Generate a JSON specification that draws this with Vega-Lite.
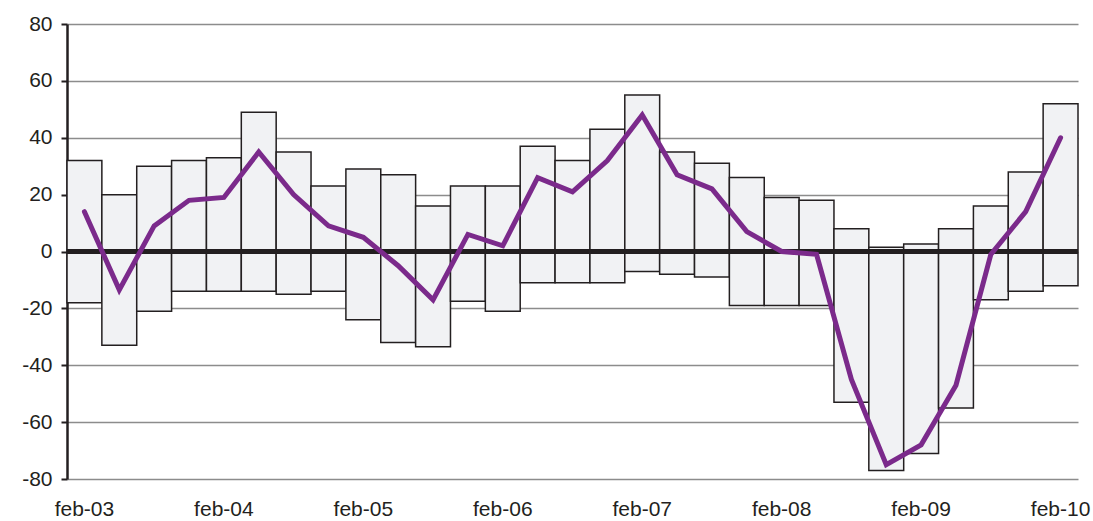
{
  "$schema": "https://vega.github.io/schema/vega-lite/v6.json",
  "width": 1011,
  "height": 455,
  "autosize": {"type": "none"},
  "padding": {"left": 67, "top": 24, "right": 15, "bottom": 42},
  "background": "white",
  "config": {
    "view": {"stroke": null},
    "font": "Liberation Sans",
    "axis": {"labelFont": "Liberation Sans", "labelFontSize": 21, "labelColor": "#231f20"}
  },
  "data": {
    "values": [
      {"period": "feb-03", "low": -18, "high": 32, "value": 14},
      {"period": "may-03", "low": -33, "high": 20, "value": -13.5},
      {"period": "aug-03", "low": -21, "high": 30, "value": 9},
      {"period": "nov-03", "low": -14, "high": 32, "value": 18},
      {"period": "feb-04", "low": -14, "high": 33, "value": 19},
      {"period": "may-04", "low": -14, "high": 49, "value": 35},
      {"period": "aug-04", "low": -15, "high": 35, "value": 20},
      {"period": "nov-04", "low": -14, "high": 23, "value": 9},
      {"period": "feb-05", "low": -24, "high": 29, "value": 5},
      {"period": "may-05", "low": -32, "high": 27, "value": -5},
      {"period": "aug-05", "low": -33.5, "high": 16, "value": -17},
      {"period": "nov-05", "low": -17.5, "high": 23, "value": 6},
      {"period": "feb-06", "low": -21, "high": 23, "value": 2},
      {"period": "may-06", "low": -11, "high": 37, "value": 26},
      {"period": "aug-06", "low": -11, "high": 32, "value": 21},
      {"period": "nov-06", "low": -11, "high": 43, "value": 32},
      {"period": "feb-07", "low": -7, "high": 55, "value": 48},
      {"period": "may-07", "low": -8, "high": 35, "value": 27},
      {"period": "aug-07", "low": -9, "high": 31, "value": 22},
      {"period": "nov-07", "low": -19, "high": 26, "value": 7},
      {"period": "feb-08", "low": -19, "high": 19, "value": 0},
      {"period": "may-08", "low": -19, "high": 18, "value": -1},
      {"period": "aug-08", "low": -53, "high": 8, "value": -45},
      {"period": "nov-08", "low": -77, "high": 1.5, "value": -75},
      {"period": "feb-09", "low": -71, "high": 2.6, "value": -68},
      {"period": "may-09", "low": -55, "high": 8, "value": -47},
      {"period": "aug-09", "low": -17, "high": 16, "value": -1},
      {"period": "nov-09", "low": -14, "high": 28, "value": 14},
      {"period": "feb-10", "low": -12, "high": 52, "value": 40}
    ]
  },
  "encoding": {
    "x": {
      "field": "period",
      "type": "ordinal",
      "sort": null,
      "scale": {"paddingInner": 0, "paddingOuter": 0},
      "axis": {
        "title": null,
        "values": ["feb-03", "feb-04", "feb-05", "feb-06", "feb-07", "feb-08", "feb-09", "feb-10"],
        "labelAngle": 0,
        "domain": false,
        "ticks": false,
        "labelPadding": 19,
        "grid": false
      }
    }
  },
  "layer": [
    {
      "mark": {"type": "bar", "fill": "#f1f2f4", "stroke": "#231f20", "strokeWidth": 1.5},
      "encoding": {
        "y": {
          "field": "low",
          "type": "quantitative",
          "scale": {"domain": [-80, 80], "nice": false},
          "axis": {
            "title": null,
            "values": [-80, -60, -40, -20, 0, 20, 40, 60, 80],
            "labelExpr": "toString(datum.value)",
            "grid": true,
            "gridColor": "#8c8c8c",
            "gridWidth": 1.5,
            "domainColor": "#231f20",
            "domainWidth": 2.5,
            "tickColor": "#231f20",
            "tickWidth": 2,
            "tickSize": 6,
            "labelPadding": 9
          }
        },
        "y2": {"field": "high"}
      }
    },
    {
      "mark": {"type": "rule", "color": "#231f20", "strokeWidth": 4.5},
      "encoding": {"y": {"datum": 0}, "x": null}
    },
    {
      "mark": {"type": "line", "color": "#7b2a8b", "strokeWidth": 5, "strokeCap": "round"},
      "encoding": {"y": {"field": "value", "type": "quantitative"}}
    }
  ]
}
